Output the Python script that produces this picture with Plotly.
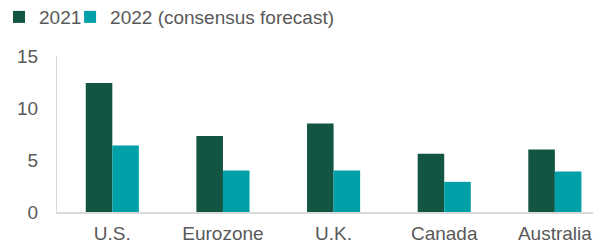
import plotly.graph_objects as go

categories = ["U.S.", "Eurozone", "U.K.", "Canada", "Australia"]
values_2021 = [12.4, 7.3, 8.5, 5.6, 6.0]
values_2022 = [6.4, 4.0, 4.0, 2.9, 3.9]
series_names = ["2021", "2022 (consensus forecast)"]
y_ticks = [0, 5, 10, 15]

fig = go.Figure()
fig.add_trace(go.Bar(x=categories, y=values_2021, name=series_names[0], legend="legend",
                     marker=dict(color="#115542", line=dict(width=0))))
fig.add_trace(go.Bar(x=categories, y=values_2022, name=series_names[1], legend="legend2",
                     marker=dict(color="#00A0A8", line=dict(width=0))))

legend_style = dict(orientation="h", xanchor="left", y=0.962, yanchor="middle",
                    yref="container", bgcolor="rgba(0,0,0,0)",
                    font=dict(size=19, color="#595959"), itemwidth=30)

# page body has an 8px default margin; figure is sized to fit the 601x246 window
fig.update_layout(
    width=593, height=238,
    margin=dict(l=49, r=0, t=48, b=34, autoexpand=False),
    paper_bgcolor="white", plot_bgcolor="white",
    barmode="group", bargap=0.52, bargroupgap=0,
    font=dict(family="Liberation Sans, Arial", size=19, color="#595959"),
    showlegend=True,
    legend=dict(x=-0.1066, xref="paper", **legend_style),
    legend2=dict(x=0.1047, xref="container", **legend_style),
    xaxis=dict(range=[-0.5, 4.417], showgrid=False, showline=True, automargin=False,
               linecolor="#d9d9d9", linewidth=2, ticks="", zeroline=False,
               ticklabelstandoff=3,
               tickfont=dict(size=19, color="#595959")),
    yaxis=dict(range=[0, 15], tickvals=y_ticks, showgrid=False, showline=True,
               automargin=False,
               linecolor="#d9d9d9", linewidth=1, ticks="", zeroline=False,
               ticklabelstandoff=14,
               tickfont=dict(size=19, color="#595959")),
)

fig.write_html("out.html")
